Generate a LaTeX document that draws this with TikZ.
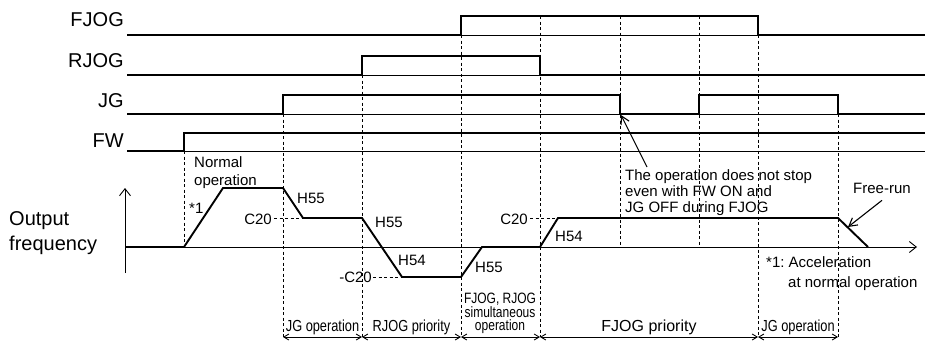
\documentclass[tikz,border=0pt]{standalone}
\usepackage{fontspec}
\setmainfont{Liberation Sans}
\newfontfamily\narrowfont[FakeStretch=0.8]{Liberation Sans}
\usetikzlibrary{arrows.meta}

\tikzset{
    sig/.style={line width=1.9pt, line join=miter},
    base/.style={line width=0.9pt},
    guide/.style={line width=0.7pt, dash pattern=on 3pt off 2.5pt},
    biglbl/.style={inner sep=0pt, font=\fontsize{20}{25}\selectfont},
    lbl/.style={inner sep=0pt, font=\fontsize{15}{16}\selectfont},
    narrowlbl/.style={inner sep=0pt, font=\narrowfont\fontsize{16}{13.5}\selectfont},
    axisarrow/.style={-{Straight Barb[length=7pt, width=11pt]}, base},
    notearrow/.style={-{Straight Barb[length=8pt, width=9pt]}, line width=1.1pt},
    spanarrow/.style={{Straight Barb[length=5pt, width=6pt]}-{Straight Barb[length=5pt, width=6pt]}, base},
}

\begin{document}
\frenchspacing
\begin{tikzpicture}[x=1pt, y=-1pt]
    \useasboundingbox (0,0) rectangle (926,340);

    % Tên các tín hiệu
    \node[biglbl, anchor=base east] (fjog) at (124,27) {FJOG};
    \node[biglbl, anchor=base east] (rjog) at (124,67) {RJOG};
    \node[biglbl, anchor=base east] (jg) at (124,107) {JG};
    \node[biglbl, anchor=base east] (fw) at (124,147) {FW};

    % Đường nền mảnh của từng tín hiệu
    \draw[base] (127,35) -- (925,35);
    \draw[base] (127,75) -- (925,75);
    \draw[base] (127,114) -- (925,114);
    \draw[base] (127,151) -- (925,151);

    % Các tín hiệu (nét đậm)
    \draw[sig] (127,35) -- (461,35) -- (461,16) -- (758,16) -- (758,35) -- (925,35);
    \draw[sig] (127,75) -- (362,75) -- (362,56) -- (540,56) -- (540,75) -- (925,75);
    \draw[sig] (127,114) -- (283,114) -- (283,95) -- (620,95) -- (620,114) -- (699,114)
        -- (699,95) -- (838,95) -- (838,114) -- (925,114);
    \draw[sig] (127,151) -- (184,151) -- (184,133) -- (925,133);

    % Các mốc thời gian (đường đứt dọc)
    \coordinate (b1) at (283,337);
    \coordinate (b2) at (362,337);
    \coordinate (b3) at (461,337);
    \coordinate (b4) at (540,337);
    \coordinate (b5) at (758,337);
    \coordinate (b6) at (838,337);
    \draw[guide] (184,151) -- (184,247);
    \draw[guide] (283,114) -- (b1);
    \draw[guide] (362,75) -- (b2);
    \draw[guide] (461,35) -- (b3);
    \draw[guide] (540,16) -- (b4);
    \draw[guide] (620,16) -- (620,247);
    \draw[guide] (699,16) -- (699,247);
    \draw[guide] (758,35) -- (b5);
    \draw[guide] (838,114) -- (b6);

    % Hệ trục tần số
    \node[biglbl, anchor=north west, align=left] (outfreq) at (9,211) {Output\\frequency};
    \draw[axisarrow] (125,273) -- (125,188);
    \draw[axisarrow] (125,247) -- (917,247);

    % Mức C20 / -C20
    \draw[guide] (274,218) -- (303,218);
    \draw[guide] (373,277) -- (402,277);
    \draw[guide] (530,218) -- (558,218);
    \node[lbl, anchor=base east] (c20a) at (272,224) {C20};
    \node[lbl, anchor=base east] (c20b) at (372,282) {-C20};
    \node[lbl, anchor=base east] (c20c) at (528,224) {C20};

    % Tần số ra
    \draw[sig] (125,247) -- (184,247) -- (223,188) -- (283,188) -- (303,218) -- (362,218)
        -- (402,277) -- (461,277) -- (482,247) -- (540,247) -- (558,218) -- (838,218) -- (868,247);

    % Nhãn trên đường tần số
    \node[lbl, anchor=north west, align=left, font=\fontsize{15}{18}\selectfont] (normal) at (194,156) {Normal\\operation};
    \node[lbl, anchor=base west] (star) at (189,213) {*1};
    \node[lbl, anchor=base west] (h55a) at (297,203) {H55};
    \node[lbl, anchor=base west] (h55b) at (375,227) {H55};
    \node[lbl, anchor=base west] (h54a) at (398,265) {H54};
    \node[lbl, anchor=base west] (h55c) at (475,272) {H55};
    \node[lbl, anchor=base west] (h54b) at (555,241) {H54};

    % Chú thích
    \node[lbl, anchor=north west, align=left] (note) at (625,169)
        {The operation does not stop\\even with FW ON and\\JG OFF during FJOG};
    \coordinate (notetail) at (647,167);
    \coordinate (jgfall) at (621,115);
    \draw[notearrow] (notetail) -- (jgfall);

    \node[lbl, anchor=base west] (freerun) at (853,193) {Free-run};
    \coordinate (frtip) at (848,227);
    \draw[notearrow] ([yshift=-7pt]freerun.south) -- (frtip);

    \node[lbl, anchor=base west] (accel) at (766,267) {*1: Acceleration};
    \node[lbl, anchor=base west] (accel2) at (788,287) {at normal operation};

    % Các khoảng hoạt động
    \draw[spanarrow] (b1) -- (b2);
    \draw[spanarrow] (b2) -- (b3);
    \draw[spanarrow] (b3) -- (b4);
    \draw[spanarrow] (b4) -- (b5);
    \draw[spanarrow] (b5) -- (b6);
    \node[narrowlbl, anchor=base] (jgop1) at (322.5,331) {JG operation};
    \node[narrowlbl, anchor=base] (rjogpri) at (411.5,331) {RJOG priority};
    \node[narrowlbl, anchor=north, align=center, font=\narrowfont\fontsize{15}{13.5}\selectfont] (simul) at (500,293)
        {FJOG, RJOG\\simultaneous\\operation};
    \node[lbl, anchor=base, font=\fontsize{16}{16}\selectfont] (fjogpri) at (649,331) {FJOG priority};
    \node[narrowlbl, anchor=base] (jgop2) at (798,331) {JG operation};
\end{tikzpicture}
\end{document}
